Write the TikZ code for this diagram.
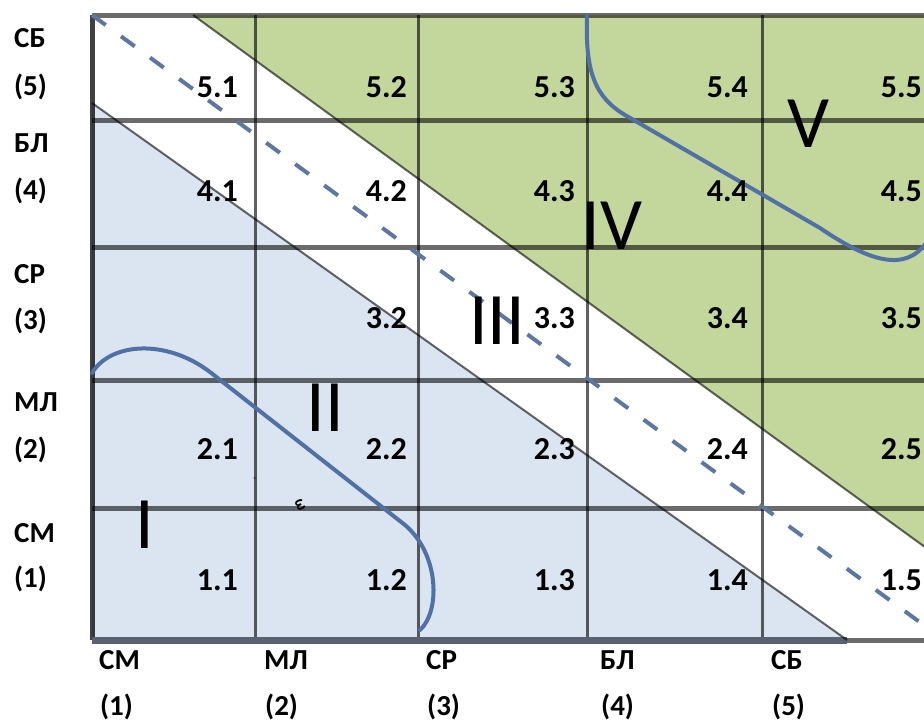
\documentclass[tikz,border=0pt]{standalone}
\usepackage{fontspec}
\setmainfont{Carlito}
\definecolor{bluefill}{RGB}{219,229,241}
\definecolor{greenfill}{RGB}{195,214,155}
\definecolor{curveblue}{RGB}{79,113,165}
\definecolor{dashblue}{RGB}{92,120,162}
\definecolor{axisgray}{RGB}{88,98,112}
\begin{document}
\begin{tikzpicture}[x=1pt,y=-1pt,
  gridh/.style={line width=5pt, black, opacity=0.58},
  gridv/.style={line width=3pt, black, opacity=0.62},
  edgeline/.style={line width=2pt, black, opacity=0.6},
  curve/.style={line width=4pt, curveblue, line cap=round},
  dashline/.style={line width=4pt, dashblue, dash pattern=on 17pt off 19pt},
  cellnum/.style={anchor=east, inner sep=0pt, font=\fontsize{32}{36}\selectfont\bfseries},
  axlabel/.style={anchor=west, inner sep=0pt, font=\fontsize{29}{34}\selectfont\bfseries},
  roman/.style={inner sep=0pt, font=\fontsize{74}{80}\selectfont}]
\useasboundingbox (0,0) rectangle (924,724);
\clip (0,0) rectangle (924,724);
% key coordinates
\coordinate (TL) at (92,15);
\coordinate (BL) at (92,640);
\coordinate (TR) at (940,15);
\coordinate (BR) at (940,640);
\coordinate (b1) at (92,103);
\coordinate (b2) at (847,640);
\coordinate (g1) at (193,15);
\coordinate (g2) at (940,558);
% fills
\fill[bluefill] (b1) -- (b2) -- (BL) -- cycle;
\fill[greenfill] (g1) -- (TR) -- (g2) -- cycle;
% grid
\foreach \yy in {15,120,247,380,508,640} \draw[gridh] (92,\yy) -- (940,\yy);
\foreach \xx in {255,418,587,762} \draw[gridv] (\xx,15) -- (\xx,640);
\draw[line width=5pt, black, opacity=0.75] (TL) -- (BL);
\draw[line width=7pt, axisgray] (BL) -- (b2);
% region borders
\draw[edgeline] (b1) -- (b2);
\draw[edgeline] (g1) -- (g2);
% dashed
\coordinate (d1) at (92,15);
\coordinate (d2) at (940,637);
\draw[dashline] (d1) -- (d2);
% curves
\coordinate (c1s) at (92,373);
\coordinate (c1e) at (420,630);
\draw[curve] (c1s) .. controls (110,343) and (165,338) .. (210,372) -- (405,525) .. controls (440,555) and (440,612) .. (c1e);
\coordinate (c2s) at (587,15);
\coordinate (c2e) at (926,243);
\draw[curve] (c2s) .. controls (585,72) and (595,97) .. (625,115) -- (820,228) .. controls (870,262) and (905,272) .. (c2e);
% small marks
\fill[black!75] (255,478) circle (1.6pt);
\node[inner sep=0pt, rotate=-65, font=\fontsize{16}{16}\selectfont\bfseries] (mark) at (300,505) {ω};
% cell numbers
\node[cellnum] (n51) at (238,87) {5.1};
\node[cellnum] (n52) at (407,87) {5.2};
\node[cellnum] (n53) at (575,87) {5.3};
\node[cellnum] (n54) at (748,87) {5.4};
\node[cellnum] (n55) at (922,87) {5.5};
\node[cellnum] (n41) at (238,191) {4.1};
\node[cellnum] (n42) at (407,191) {4.2};
\node[cellnum] (n43) at (575,191) {4.3};
\node[cellnum] (n44) at (748,191) {4.4};
\node[cellnum] (n45) at (922,191) {4.5};
\node[cellnum] (n32) at (407,318) {3.2};
\node[cellnum] (n33) at (575,318) {3.3};
\node[cellnum] (n34) at (748,318) {3.4};
\node[cellnum] (n35) at (922,318) {3.5};
\node[cellnum] (n21) at (238,449) {2.1};
\node[cellnum] (n22) at (407,449) {2.2};
\node[cellnum] (n23) at (575,449) {2.3};
\node[cellnum] (n24) at (748,449) {2.4};
\node[cellnum] (n25) at (922,449) {2.5};
\node[cellnum] (n11) at (238,580) {1.1};
\node[cellnum] (n12) at (407,580) {1.2};
\node[cellnum] (n13) at (575,580) {1.3};
\node[cellnum] (n14) at (748,580) {1.4};
\node[cellnum] (n15) at (922,580) {1.5};
% roman numerals
\node[roman] (r1) at (145,525) {I};
\node[roman] (r2) at (325,408) {II};
\node[roman] (r3) at (497,321) {III};
\node[roman] (r4) at (612,226) {IV};
\node[roman] (r5) at (808,124) {V};
% left axis labels
\node[axlabel] (l5a) at (14,38) {СБ};
\node[axlabel] (l5b) at (14,87) {(5)};
\node[axlabel] (l4a) at (14,143) {БЛ};
\node[axlabel] (l4b) at (14,191) {(4)};
\node[axlabel] (l3a) at (14,274) {СР};
\node[axlabel] (l3b) at (14,321) {(3)};
\node[axlabel] (l2a) at (14,402) {МЛ};
\node[axlabel] (l2b) at (14,450) {(2)};
\node[axlabel] (l1a) at (14,533) {СМ};
\node[axlabel] (l1b) at (14,579) {(1)};
% bottom axis labels
\node[axlabel] (x1a) at (99,660) {СМ};
\node[axlabel] (x1b) at (100,707) {(1)};
\node[axlabel] (x2a) at (264,660) {МЛ};
\node[axlabel] (x2b) at (265,707) {(2)};
\node[axlabel] (x3a) at (426,660) {СР};
\node[axlabel] (x3b) at (427,707) {(3)};
\node[axlabel] (x4a) at (600,660) {БЛ};
\node[axlabel] (x4b) at (601,707) {(4)};
\node[axlabel] (x5a) at (771,660) {СБ};
\node[axlabel] (x5b) at (772,707) {(5)};
\end{tikzpicture}
\end{document}
